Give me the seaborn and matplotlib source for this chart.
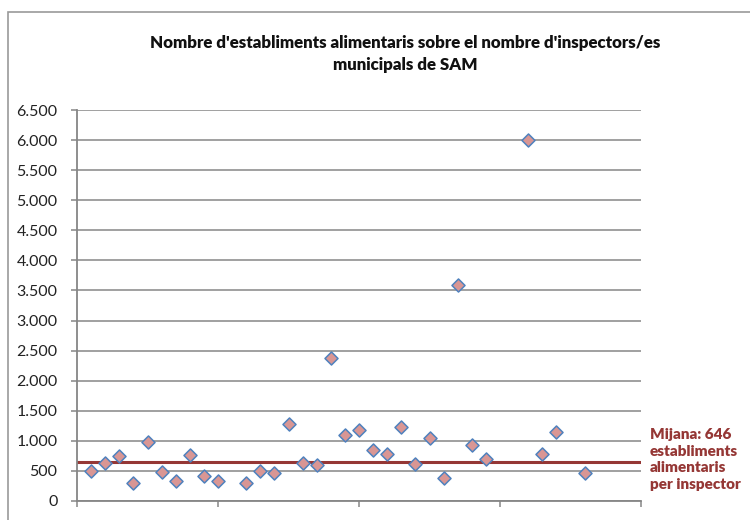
import matplotlib
matplotlib.use("Agg")
import matplotlib.pyplot as plt
import matplotlib.ticker as mticker
import seaborn as sns
import pandas as pd

# position of each municipality on the x axis and establishments per inspector
posicio = [1, 2, 3, 4, 5, 6, 7, 8, 9, 10, 12, 13, 14, 15, 16, 17, 18, 19, 20,
           21, 22, 23, 24, 25, 26, 27, 28, 29, 32, 33, 34, 36]
establiments = [495, 630, 740, 300, 980, 480, 325, 770, 410, 330, 295, 505, 460,
                1275, 640, 605, 2370, 1105, 1185, 850, 785, 1235, 615, 1045,
                385, 3590, 935, 700, 6000, 785, 1150, 460]
mijana = 646
titol = "Nombre d'establiments alimentaris sobre el nombre d'inspectors/es\nmunicipals de SAM"
etiqueta_mijana = "Mijana: 646\nestabliments\nalimentaris\nper inspector"

sns.set_style("white")
plt.rcParams["font.family"] = ["Lato", "DejaVu Sans"]

df = pd.DataFrame({"pos": posicio, "valor": establiments})

fig = plt.figure(figsize=(7.5, 5.2), dpi=100)
ax = fig.add_axes([77 / 750, 1 - 501 / 520, (641 - 77) / 750, (501 - 110) / 520])

grey = "#868686"
ax.set_xlim(0, 40)
ax.set_ylim(0, 6500)
ax.set_yticks(range(0, 6501, 500))
ax.set_xticks([0, 10, 20, 30, 40])
ax.set_xticklabels([])
ax.yaxis.set_major_formatter(mticker.FuncFormatter(lambda v, p: f"{int(v):,}".replace(",", ".")))
ax.grid(axis="y", color=grey, linewidth=1.1)
ax.set_axisbelow(True)
for s in ["top", "right"]:
    ax.spines[s].set_visible(False)
for s in ["left", "bottom"]:
    ax.spines[s].set_color(grey)
    ax.spines[s].set_linewidth(1.3)
ax.tick_params(axis="both", direction="out", length=4, width=1.1, color=grey,
               labelsize=11.5, labelcolor="#222222", pad=8)
ax.tick_params(axis="y", pad=10, left=True)
ax.tick_params(axis="x", bottom=True)

ax.axhline(mijana, color="#953735", linewidth=2.2, zorder=2)

sns.scatterplot(data=df, x="pos", y="valor", marker="D", s=44, color="#D99694",
                edgecolor="#4F81BD", linewidth=1.1, ax=ax, zorder=3, clip_on=False)
ax.set_xlabel("")
ax.set_ylabel("")

fig.text(0.54, 1 - 35 / 520, titol, ha="center", va="top", fontsize=12.2,
         fontweight="heavy", color="#111111", linespacing=1.45)
fig.text(650 / 750, 1 - 428 / 520, etiqueta_mijana, ha="left", va="top",
         fontsize=11, fontweight="heavy", color="#953735", linespacing=1.32)

# outer chart frame
fig.patches.append(plt.Rectangle((8 / 750, -0.1), 1.2, 1 - 12 / 520 + 0.1,
                                 transform=fig.transFigure, fill=False,
                                 edgecolor="#9a9a9a", linewidth=1.2))

fig.savefig("out.png", dpi=100)
